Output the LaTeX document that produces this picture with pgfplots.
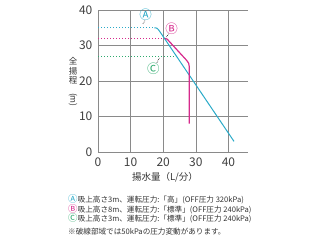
\documentclass[border=0pt]{standalone}
\usepackage{fontspec}
\setmainfont{Noto Sans CJK JP}
\usepackage{graphicx}
\usepackage{pgfplots}
\pgfplotsset{compat=1.18}
\definecolor{cA}{HTML}{2AAAC8}
\definecolor{cB}{HTML}{D62A8C}
\definecolor{cC}{HTML}{2EAA6E}
\definecolor{gr}{HTML}{8A8A8A}
\begin{document}
\begin{tikzpicture}[x=1pt,y=1pt]
\useasboundingbox (-98,-88) rectangle (222,152);
\begin{axis}[
  at={(0,0)}, anchor=south west,
  scale only axis, width=150pt, height=142pt,
  xmin=0, xmax=46, ymin=0, ymax=40,
  xtick={0,10,20,30,40}, ytick={0,10,20,30,40},
  axis lines=left, axis line style={-, gr, line width=0.8pt},
  grid=major, major grid style={gr, line width=0.6pt},
  tick style={draw=none},
  ticklabel style={font=\fontsize{12}{12}\selectfont, text=black!75},
  /pgf/number format/assume math mode=true,
  clip=false,
]
\addplot[cA, line width=1pt, dotted] coordinates {(0,35) (17.3,35)};
\addplot[cB, line width=1pt, dotted] coordinates {(0,32) (20.5,32)};
\addplot[cC, line width=1pt, dotted] coordinates {(0,27) (24.3,27)};
\addplot[cA, line width=1pt] coordinates {(17.3,35) (18.0,34.9) (18.5,34.5) (19.2,33.6) (41.7,3.0)};
\addplot[cB, line width=1.2pt] coordinates {(20.5,32) (21.2,31.8) (27.2,25.8) (27.8,25) (28,24) (28,8)};
\draw[densely dotted, line width=0.6pt] (axis cs:14.4,37.0) -- (axis cs:13.7,36.0);
\draw[densely dotted, line width=0.6pt] (axis cs:21.6,33.3) -- (axis cs:21.0,32.4);
\draw[densely dotted, line width=0.6pt] (axis cs:18.8,26.5) -- (axis cs:18.0,25.0);
\node[cA, font=\fontsize{12.5}{12.5}\selectfont, inner sep=0pt] at (axis cs:14.6,38.7) {Ⓐ};
\node[cB, font=\fontsize{12.5}{12.5}\selectfont, inner sep=0pt] at (axis cs:22.6,34.6) {Ⓑ};
\node[cC, font=\fontsize{12.5}{12.5}\selectfont, inner sep=0pt] at (axis cs:17.0,23.5) {Ⓒ};
\end{axis}
\node[align=center, font=\fontsize{8.5}{9.5}\selectfont, text=black!80, inner sep=0pt] at (-25,70) {全\\揚\\程\\\rotatebox{-90}{(m)}};
\node[font=\fontsize{9.5}{10}\selectfont, text=black!80] at (67,-25) {揚水量（L/分）};
\begin{scope}[every node/.style={anchor=west, inner sep=0pt, font=\fontsize{7.6}{8}\selectfont, text=black!80}]
\node at (-30,-47) {\textcolor{cA}{\fontsize{9.5}{9.5}\selectfont Ⓐ}吸上高さ3m、運転圧力:「高」(OFF圧力 320kPa)};
\node at (-30,-57) {\textcolor{cB}{\fontsize{9.5}{9.5}\selectfont Ⓑ}吸上高さ8m、運転圧力:「標準」(OFF圧力 240kPa)};
\node at (-30,-66) {\textcolor{cC}{\fontsize{9.5}{9.5}\selectfont Ⓒ}吸上高さ3m、運転圧力:「標準」(OFF圧力 240kPa)};
\node at (-30,-80) {※破線部域では50kPaの圧力変動があります。};
\end{scope}
\end{tikzpicture}
\end{document}
